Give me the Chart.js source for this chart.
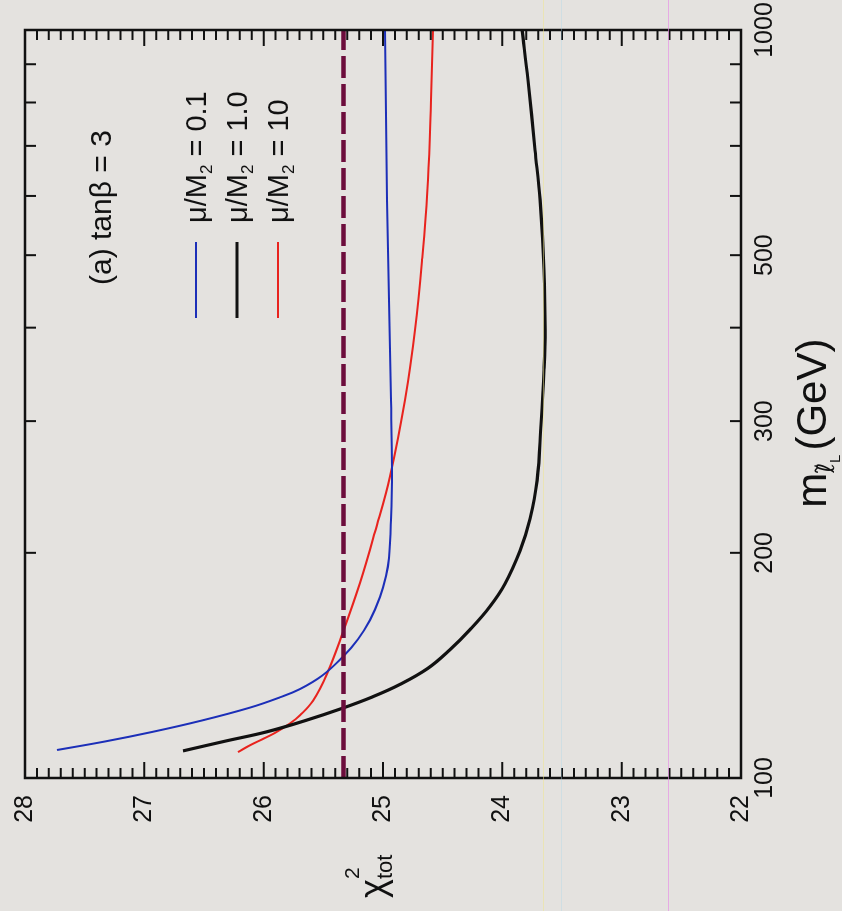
<!DOCTYPE html>
<html>
<head>
<meta charset="utf-8">
<script src="https://cdn.jsdelivr.net/npm/chart.js@4.4.1/dist/chart.umd.min.js"></script>
<style>
  html, body { margin: 0; padding: 0; background: #e4e2df; }
  #page { position: relative; width: 842px; height: 911px; overflow: hidden; background: #e4e2df; }
  /* the figure is printed sideways: draw it upright, then turn it a quarter left */
  #chart { position: absolute; left: 0; top: 0; transform-origin: 0 0; transform: translate(0px, 911px) rotate(-90deg); }
  .streak { position: absolute; top: 0; width: 1px; height: 911px; }
</style>
</head>
<body>
<div id="page">
  <canvas id="chart" width="911" height="842"></canvas>
  <div class="streak" style="left:543px; background:rgba(240,230,140,0.5)"></div>
  <div class="streak" style="left:561px; background:rgba(170,215,235,0.35)"></div>
  <div class="streak" style="left:668px; background:rgba(230,140,230,0.65)"></div>
</div>
<script>
// slepton mass (GeV) against chi^2_tot
const massBlue = [109.0, 111.9, 115.3, 119.2, 124.2, 128.2, 131.5, 137.0, 144.8, 153.3, 162.6, 174.6, 186.2, 196.8, 221.3, 258.1, 320.1, 435.5, 592.7, 1000];
const chiBlue  = [27.732, 27.33, 26.927, 26.533, 26.115, 25.863, 25.695, 25.511, 25.344, 25.209, 25.109, 25.025, 24.975, 24.95, 24.933, 24.925, 24.933, 24.95, 24.966, 24.983];

const massBlack = [108.7, 112.0, 115.3, 119.3, 123.9, 128.3, 133.4, 140.2, 148.5, 157.9, 169.6, 181.7, 201.2, 222.0, 249.9, 296.9, 351.2, 397.2, 477.7, 592.7, 691.3, 857.5, 1000];
const chiBlack  = [26.676, 26.324, 25.972, 25.654, 25.344, 25.092, 24.857, 24.623, 24.438, 24.271, 24.103, 23.978, 23.852, 23.768, 23.709, 23.676, 23.651, 23.642, 23.651, 23.684, 23.726, 23.785, 23.835];

const massRed = [108.3, 110.6, 112.6, 114.9, 118.3, 121.3, 126.9, 137.8, 156.7, 182.3, 213.3, 253.1, 320.1, 397.2, 492.7, 630.3, 806.3, 1000];
const chiRed  = [26.215, 26.115, 26.014, 25.905, 25.779, 25.695, 25.586, 25.469, 25.335, 25.193, 25.067, 24.941, 24.816, 24.732, 24.673, 24.623, 24.598, 24.581];

const chiLimit = 25.33;
const massRange = [100, 1000];
const massTicks = [100, 200, 300, 400, 500, 600, 700, 800, 900, 1000];
const massLabels = [100, 200, 300, 500, 1000];
const chiRange = [22, 28];

const FONT = "'Liberation Sans', Arial, Helvetica, sans-serif";

function pts(xs, ys) {
  return xs.map((x, i) => ({ x: x, y: ys[i] }));
}

// draw a run of text pieces with their own size and vertical shift
function drawRich(ctx, parts, x, y) {
  parts.forEach(p => {
    ctx.font = p.size + 'px ' + (p.family || FONT);
    ctx.fillText(p.t, x, y + (p.dy || 0));
    if (!p.stack) x += ctx.measureText(p.t).width + (p.gap || 0);
  });
}

// keep label overhang from pushing the plot frame inward
function fixBox(size) {
  return s => {
    if (s.isHorizontal()) s.height = size; else s.width = size;
    s.paddingTop = 0; s.paddingBottom = 0; s.paddingLeft = 0; s.paddingRight = 0;
  };
}

const legendRows = [
  { color: '#1c2fb8', width: 2, label: '0.1' },
  { color: '#111111', width: 3.2, label: '1.0' },
  { color: '#e8231e', width: 2, label: '10' }
];

const decorPlugin = {
  id: 'decor',
  afterDatasetsDraw(chart) {
    const { ctx, chartArea: a, scales: { x, y } } = chart;
    ctx.save();
    ctx.strokeStyle = '#111';
    ctx.lineWidth = 2;
    ctx.beginPath();
    // chi^2 ticks every 0.1, pointing inward on both sides
    for (let k = 0; k <= 60; k++) {
      const py = y.getPixelForValue(chiRange[0] + k / 10);
      const len = k % 10 === 0 ? 16 : 10;
      ctx.moveTo(a.left, py); ctx.lineTo(a.left + len, py);
      ctx.moveTo(a.right, py); ctx.lineTo(a.right - len, py);
    }
    massTicks.forEach(m => {
      const px = x.getPixelForValue(m);
      ctx.moveTo(px, a.top); ctx.lineTo(px, a.top + 11);
      ctx.moveTo(px, a.bottom); ctx.lineTo(px, a.bottom - 11);
    });
    ctx.stroke();
    ctx.lineWidth = 2.5;
    ctx.strokeRect(a.left, a.top, a.right - a.left, a.bottom - a.top);

    ctx.fillStyle = '#111';
    ctx.textAlign = 'left';
    ctx.textBaseline = 'alphabetic';

    // panel note
    drawRich(ctx, [{ t: '(a) tanβ = 3', size: 30 }], a.left + 493, a.top + 86);

    // legend
    legendRows.forEach((r, i) => {
      const cy = a.top + 171 + i * 41;
      ctx.strokeStyle = r.color;
      ctx.lineWidth = r.width;
      ctx.beginPath();
      ctx.moveTo(a.left + 460, cy);
      ctx.lineTo(a.left + 536, cy);
      ctx.stroke();
      ctx.fillStyle = '#111';
      drawRich(ctx, [
        { t: 'μ/M', size: 29 },
        { t: '2', size: 17, dy: 6 },
        { t: ' = ' + r.label, size: 29 }
      ], a.left + 555, cy + 10);
    });

    // axis titles
    drawRich(ctx, [
      { t: 'χ', size: 36 },
      { t: '2', size: 21, dy: -26, stack: true },
      { t: 'tot', size: 22, dy: 7 }
    ], 13, a.top + 360);

    drawRich(ctx, [
      { t: 'm', size: 42 },
      { t: 'ℓ̃', size: 24, dy: 8, family: "'DejaVu Sans', sans-serif" },
      { t: 'L', size: 15, dy: 14, gap: 4 },
      { t: '(GeV)', size: 42 }
    ], x.getPixelForValue(200) + 45, a.bottom + 85);
    ctx.restore();
  }
};

const curve = { pointRadius: 0, tension: 0.4 };

new Chart(document.getElementById('chart'), {
  type: 'line',
  data: {
    datasets: [
      {
        data: pts(massRange, [chiLimit, chiLimit]),
        borderColor: '#6c0d3c',
        borderWidth: 4.5,
        borderDash: [22, 6],
        pointRadius: 0
      },
      Object.assign({ data: pts(massBlue, chiBlue), borderColor: '#1c2fb8', borderWidth: 2 }, curve),
      Object.assign({ data: pts(massBlack, chiBlack), borderColor: '#111111', borderWidth: 3.2 }, curve),
      Object.assign({ data: pts(massRed, chiRed), borderColor: '#e8231e', borderWidth: 2 }, curve)
    ]
  },
  options: {
    responsive: false,
    animation: false,
    layout: { padding: { left: 0, right: 30, top: 25, bottom: 0 } },
    plugins: { legend: { display: false }, tooltip: { enabled: false } },
    scales: {
      x: {
        type: 'logarithmic',
        min: massRange[0],
        max: massRange[1],
        grid: { display: false, drawTicks: false },
        border: { display: false },
        afterBuildTicks: s => { s.ticks = massTicks.map(v => ({ value: v })); },
        afterFit: fixBox(101),
        ticks: {
          autoSkip: false,
          maxRotation: 0,
          padding: 9,
          color: '#111',
          font: { size: 25, family: FONT },
          callback: v => massLabels.includes(v) ? String(v) : ''
        }
      },
      y: {
        min: chiRange[0],
        max: chiRange[1],
        grid: { display: false, drawTicks: false },
        border: { display: false },
        afterFit: fixBox(133),
        ticks: {
          stepSize: 1,
          padding: 17,
          color: '#111',
          font: { size: 25, family: FONT }
        }
      }
    }
  },
  plugins: [decorPlugin]
});
</script>
</body>
</html>
